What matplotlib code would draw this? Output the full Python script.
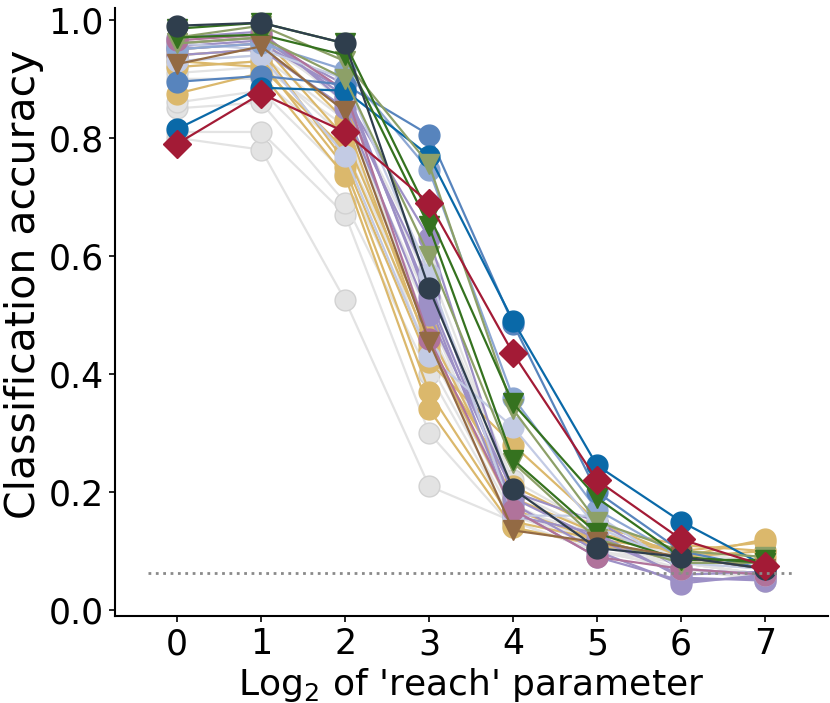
import numpy as np
import matplotlib
matplotlib.use("Agg")
import matplotlib.pyplot as plt

reach_log2 = [0, 1, 2, 3, 4, 5, 6, 7]
chance_level = 1 / 16

gray_acc = [
    [0.80, 0.78, 0.525, 0.21, 0.15, 0.10, 0.07, 0.055],
    [0.81, 0.81, 0.67, 0.30, 0.14, 0.11, 0.08, 0.06],
    [0.85, 0.86, 0.69, 0.40, 0.15, 0.10, 0.07, 0.05],
    [0.86, 0.88, 0.74, 0.44, 0.17, 0.12, 0.08, 0.06],
    [0.90, 0.90, 0.78, 0.48, 0.18, 0.11, 0.07, 0.06],
    [0.92, 0.93, 0.80, 0.50, 0.16, 0.12, 0.08, 0.06],
    [0.93, 0.94, 0.83, 0.52, 0.20, 0.13, 0.09, 0.07],
    [0.94, 0.95, 0.85, 0.47, 0.19, 0.12, 0.08, 0.07],
    [0.95, 0.96, 0.87, 0.55, 0.22, 0.14, 0.09, 0.07],
    [0.96, 0.97, 0.88, 0.45, 0.17, 0.13, 0.10, 0.08],
    [0.97, 0.97, 0.86, 0.58, 0.21, 0.10, 0.08, 0.06],
    [0.91, 0.92, 0.82, 0.42, 0.16, 0.11, 0.09, 0.05],
]
gold_acc = [
    [0.875, 0.91, 0.735, 0.34, 0.14, 0.11, 0.09, 0.12],
    [0.92, 0.93, 0.75, 0.37, 0.15, 0.12, 0.10, 0.115],
    [0.94, 0.95, 0.76, 0.42, 0.28, 0.15, 0.09, 0.10],
    [0.95, 0.96, 0.80, 0.47, 0.19, 0.13, 0.10, 0.09],
    [0.93, 0.92, 0.78, 0.45, 0.17, 0.12, 0.08, 0.08],
    [0.96, 0.97, 0.83, 0.44, 0.21, 0.14, 0.11, 0.10],
]
purple_acc = [
    [0.96, 0.97, 0.87, 0.63, 0.19, 0.12, 0.06, 0.065],
    [0.95, 0.96, 0.88, 0.53, 0.18, 0.10, 0.045, 0.06],
    [0.97, 0.98, 0.86, 0.56, 0.17, 0.09, 0.05, 0.055],
    [0.94, 0.95, 0.85, 0.50, 0.20, 0.15, 0.07, 0.06],
    [0.955, 0.965, 0.89, 0.52, 0.16, 0.13, 0.055, 0.05],
]
lavender_acc = [
    [0.93, 0.94, 0.77, 0.43, 0.31, 0.14, 0.08, 0.07],
    [0.96, 0.95, 0.90, 0.57, 0.16, 0.16, 0.07, 0.06],
]
lightblue_acc = [[0.95, 0.96, 0.915, 0.745, 0.36, 0.17, 0.09, 0.07]]
mauve_acc = [[0.965, 0.975, 0.88, 0.46, 0.17, 0.09, 0.07, 0.06]]
steelblue_acc = [[0.895, 0.905, 0.89, 0.805, 0.485, 0.20, 0.10, 0.07]]
blue_acc = [[0.815, 0.885, 0.88, 0.77, 0.49, 0.245, 0.15, 0.075]]
olive_acc = [
    [0.97, 0.99, 0.93, 0.755, 0.34, 0.15, 0.10, 0.09],
    [0.96, 0.97, 0.90, 0.60, 0.25, 0.12, 0.08, 0.08],
]
green_acc = [
    [0.985, 0.995, 0.96, 0.67, 0.35, 0.19, 0.09, 0.08],
    [0.97, 0.975, 0.94, 0.65, 0.255, 0.13, 0.085, 0.085],
]
brown_acc = [[0.925, 0.955, 0.845, 0.455, 0.135, 0.115, 0.09, 0.07]]
navy_acc = [[0.99, 0.995, 0.96, 0.545, 0.205, 0.105, 0.09, 0.07]]
red_acc = [[0.79, 0.875, 0.81, 0.69, 0.435, 0.22, 0.12, 0.075]]

# (series, colour, edge colour, marker, marker size)
groups = [
    (gray_acc, "#e3e3e3", "#d2d2d2", "o", 15),
    (gold_acc, "#dbb86c", "#dbb86c", "o", 15),
    (purple_acc, "#9d90c6", "#9d90c6", "o", 15),
    (lavender_acc, "#c3cbe4", "#c3cbe4", "o", 15),
    (lightblue_acc, "#8da7d3", "#8da7d3", "o", 15),
    (mauve_acc, "#b0739b", "#b0739b", "o", 15),
    (steelblue_acc, "#5784bd", "#5784bd", "o", 15),
    (blue_acc, "#0a69a8", "#0a69a8", "o", 15),
    (olive_acc, "#8da068", "#8da068", "v", 15),
    (green_acc, "#35721f", "#35721f", "v", 15),
    (brown_acc, "#936a44", "#936a44", "v", 15),
    (navy_acc, "#2f3e4d", "#2f3e4d", "o", 15),
    (red_acc, "#a31b36", "#a31b36", "D", 14),
]

plt.rcParams["font.family"] = "DejaVu Sans"
fig = plt.figure(figsize=(8.3, 7.03), dpi=100)
ax = fig.add_axes([115 / 830, 87 / 703, 713 / 830, 608 / 703])

for series, color, edge, marker, ms in groups:
    for acc in series:
        ax.plot(reach_log2, acc, color=color, lw=1.6, marker=marker,
                markersize=ms, markerfacecolor=color, markeredgecolor=edge,
                markeredgewidth=1)

ax.hlines(chance_level, -0.35, 7.35, colors="#8a8a8a", linestyles=":", lw=2)

ax.set_xlim(-0.74, 7.75)
ax.set_ylim(-0.01, 1.02)
ax.set_xticks(reach_log2)
ax.set_yticks([0.0, 0.2, 0.4, 0.6, 0.8, 1.0])
ax.spines["top"].set_visible(False)
ax.spines["right"].set_visible(False)
ax.spines["left"].set_linewidth(1.5)
ax.spines["bottom"].set_linewidth(1.5)
ax.tick_params(labelsize=25, width=1.2, length=4.5)

ax.set_ylabel("Classification accuracy", fontsize=29.5)
ax.yaxis.label.set_va("baseline")
ax.yaxis.set_label_coords(-80 / 713, 332 / 608)

ax.set_xlabel("Log$_2$ of 'reach' parameter", fontsize=26)
ax.xaxis.label.set_va("baseline")
ax.xaxis.set_label_coords(0.5, -79 / 608)

fig.savefig("out.png", dpi=100)
